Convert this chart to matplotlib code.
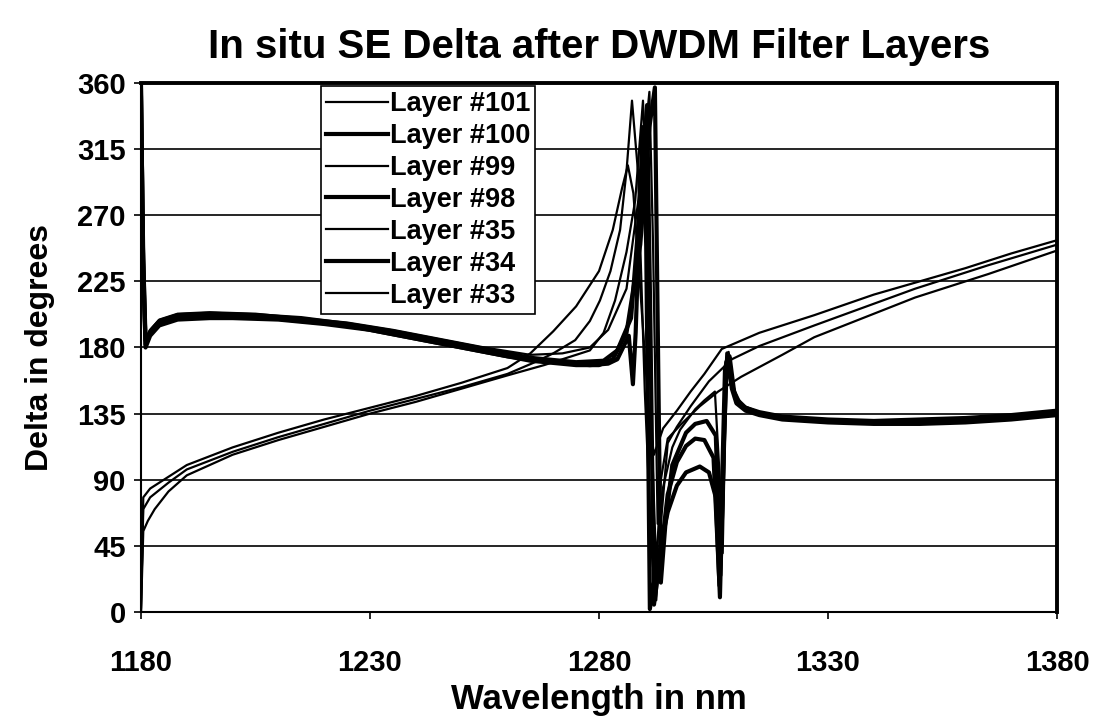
import matplotlib.pyplot as plt

plt.rcParams['font.family'] = ['Liberation Sans', 'DejaVu Sans']

# values (wavelength nm, delta deg)
x101 = [1180, 1180.5, 1182, 1186, 1190, 1200, 1210, 1220, 1230, 1240, 1250, 1260, 1265, 1270, 1275, 1280,
        1283, 1285, 1286.3, 1287.5, 1289, 1291, 1292, 1294, 1297, 1300, 1303, 1306.8, 1315, 1327, 1340,
        1350, 1360, 1370, 1380]
y101 = [0, 78, 84, 92, 100, 112, 122, 131, 139, 147, 156, 166, 176, 191, 208, 232,
        260, 288, 304, 285, 220, 130, 107, 125, 137, 150, 162, 179, 190, 202, 216,
        225, 234, 244, 253]

x99 = [1180, 1180.5, 1182, 1186, 1190, 1200, 1210, 1220, 1230, 1240, 1250, 1260, 1266, 1270, 1274.8,
       1278, 1280.2, 1282.5, 1284.6, 1286, 1287.2, 1288.5, 1290, 1291.5, 1292.5, 1293.5, 1295, 1297,
       1300, 1304, 1309, 1315, 1327, 1349, 1365, 1380]
y99 = [3, 70, 78, 88, 97, 109, 119, 128, 137, 145, 153, 162, 170, 176, 185,
       198, 212, 232, 260, 300, 348, 300, 150, 40, 8, 60, 115, 126,
       140, 157, 172, 181, 195, 220, 236, 250]

x35 = [1180, 1180.5, 1181.5, 1183, 1186, 1190, 1200, 1210, 1220, 1230, 1240, 1250, 1260, 1268, 1274,
       1278, 1281, 1283.5, 1286, 1287.9, 1289.6, 1290.5, 1291.5, 1292.5, 1293.5, 1295, 1298, 1302,
       1306, 1311, 1320, 1327, 1349, 1365, 1380]
y35 = [0, 55, 62, 70, 82, 93, 107, 117, 126, 135, 143, 152, 161, 168, 174,
       178, 190, 212, 245, 280, 348, 280, 120, 30, 90, 118, 128, 140,
       150, 160, 175, 187, 214, 230, 246]

x100 = [1180, 1180.4, 1181, 1182, 1184, 1188, 1195, 1200, 1210, 1220, 1230, 1240, 1250, 1260, 1270,
        1278, 1282, 1284, 1286.5, 1287.4, 1288, 1289.5, 1290.3, 1291.1, 1292.5, 1295, 1297, 1299,
        1302, 1304, 1305.5, 1306.4, 1307.3, 1308, 1309, 1310, 1312, 1315, 1320, 1330, 1340, 1350,
        1360, 1370, 1380]
y100 = [360, 250, 180, 188, 195, 199, 200, 200, 199, 196, 192, 186, 180, 174, 170,
        168, 169, 172, 188, 155, 190, 330, 250, 2, 30, 68, 86, 95,
        99, 95, 78, 10, 120, 176, 152, 142, 137, 134, 131, 129, 128, 128,
        129, 131, 134]

x98 = [1180, 1180.5, 1181, 1182, 1184, 1188, 1195, 1205, 1215, 1225, 1235, 1245, 1255, 1265, 1275,
       1281, 1284, 1287, 1289, 1290.5, 1291.2, 1292, 1293.5, 1295, 1297, 1299, 1301, 1303, 1305,
       1306.3, 1307.5, 1308.2, 1309, 1310, 1312, 1315, 1320, 1330, 1340, 1350, 1360, 1370, 1380]
y98 = [355, 230, 182, 191, 198, 202, 203, 202, 200, 196, 191, 185, 179, 173, 170,
       171, 178, 200, 280, 345, 200, 5, 40, 80, 102, 113, 118, 117, 105,
       18, 165, 175, 155, 145, 139, 136, 133, 131, 130, 131, 132, 134, 137]

x34 = [1180, 1180.5, 1181, 1182, 1184, 1188, 1195, 1205, 1215, 1225, 1235, 1245, 1255, 1265, 1275,
       1280, 1283, 1286, 1289, 1291, 1292.2, 1292.8, 1293.5, 1294.5, 1296, 1299, 1301, 1303.5, 1305.5,
       1306.5, 1307.8, 1308.5, 1309.5, 1311, 1315, 1320, 1330, 1340, 1350, 1360, 1370, 1380]
y34 = [350, 240, 185, 190, 196, 200, 201, 201, 198, 195, 189, 183, 177, 171, 168,
       168, 172, 190, 250, 330, 357, 200, 20, 60, 100, 122, 128, 130, 120,
       25, 170, 174, 150, 140, 135, 132, 130, 129, 129, 130, 132, 135]

x33 = [1180, 1180.5, 1181, 1182, 1184, 1188, 1195, 1205, 1215, 1225, 1235, 1245, 1255, 1265, 1272,
       1278, 1282, 1286, 1289, 1291, 1291.8, 1292.8, 1294, 1296, 1297.7, 1301, 1303, 1305.3, 1306.2,
       1307, 1307.8, 1308.3, 1309.2, 1311, 1315, 1320, 1330, 1340, 1350, 1360, 1370, 1380]
y33 = [358, 260, 183, 192, 199, 203, 204, 203, 200, 197, 192, 186, 180, 175, 176,
       180, 192, 220, 290, 354, 250, 60, 85, 112, 124, 138, 144, 150, 100,
       40, 165, 177, 152, 141, 136, 133, 131, 130, 130, 131, 133, 136]

series = [("Layer #101", x101, y101, 1.6),
          ("Layer #100", x100, y100, 3.0),
          ("Layer #99", x99, y99, 1.6),
          ("Layer #98", x98, y98, 3.0),
          ("Layer #35", x35, y35, 1.6),
          ("Layer #34", x34, y34, 3.0),
          ("Layer #33", x33, y33, 1.6)]

fig = plt.figure(figsize=(10.98, 7.25), dpi=100)
ax = fig.add_axes([0.1284, 0.1559, 0.8343, 0.7296])

for name, xs, ys, lw in series:
    ax.plot(xs, ys, color='black', lw=lw, label=name)

ax.set_xlim(1180, 1380)
ax.set_ylim(0, 360)
ax.set_xticks([1180, 1230, 1280, 1330, 1380])
ax.set_yticks(range(0, 361, 45))
ax.yaxis.grid(True, color='black', lw=1.2)
ax.set_axisbelow(True)
ax.tick_params(labelsize=21, length=5, width=1.2)
ax.tick_params(axis='x', pad=22)
ax.tick_params(axis='y', pad=6)
for lab in ax.get_xticklabels() + ax.get_yticklabels():
    lab.set_fontweight('bold')

for side in ['top', 'right']:
    ax.spines[side].set_linewidth(2.8)
for side in ['left', 'bottom']:
    ax.spines[side].set_linewidth(1.5)

ax.set_title("In situ SE Delta after DWDM Filter Layers", fontsize=29, fontweight='bold', pad=18)
ax.set_xlabel("Wavelength in nm", fontsize=25, fontweight='bold', labelpad=4)
ax.set_ylabel("Delta in degrees", fontsize=23, fontweight='bold', labelpad=16)

leg = ax.legend(loc='upper left', bbox_to_anchor=(0.196, 0.995), frameon=True,
                prop={'size': 19.5, 'weight': 'bold'},
                fancybox=False, edgecolor='black', framealpha=1, borderpad=0.2,
                labelspacing=0.22, handlelength=2.3, handletextpad=0.05, borderaxespad=0)
leg.get_frame().set_linewidth(1.2)

fig.savefig("out.png", dpi=100)
